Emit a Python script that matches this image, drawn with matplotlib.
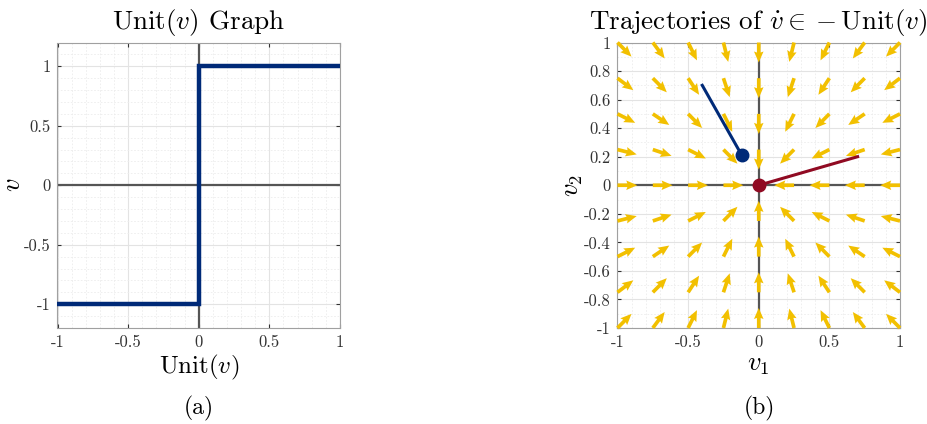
import numpy as np
import matplotlib
matplotlib.use("Agg")
import matplotlib.pyplot as plt

plt.rcParams['mathtext.fontset'] = 'cm'
plt.rcParams['font.family'] = 'serif'
plt.rcParams['font.serif'] = ['cmr10', 'DejaVu Serif']
plt.rcParams['axes.unicode_minus'] = False
plt.rcParams['axes.formatter.use_mathtext'] = True

# ---- data ----
# (a) Unit(v) step graph
step_x = [-1.0, 0.0, 0.0, 1.0]
step_y = [-1.0, -1.0, 1.0, 1.0]

# (b) vector field grid and two trajectories
grid_vals = [-1.0, -0.75, -0.5, -0.25, 0.0, 0.25, 0.5, 0.75, 1.0]
arrow_len = 0.14
traj_blue_x = [-0.40, -0.12]
traj_blue_y = [0.70, 0.21]
traj_red_x = [0.70, 0.0]
traj_red_y = [0.20, 0.0]

navy = '#002a78'
darkred = '#900a22'
yellow = '#f2c000'
axis_gray = '#555555'

W, H = 928, 424
fig = plt.figure(figsize=(W / 100, H / 100), dpi=100)


def px_axes(l, t, r, b):
    return fig.add_axes([l / W, 1 - b / H, (r - l) / W, (b - t) / H])


def style(ax):
    ax.tick_params(direction='in', length=3, top=True, right=True,
                   labelsize=12, colors='#333333', pad=5, which='major')
    ax.tick_params(which='minor', length=0, top=True, right=True)
    for s in ax.spines.values():
        s.set_color('#a0a0a0')
        s.set_linewidth(0.8)
    ax.grid(True, which='major', color='#e3e3e3', lw=0.8)
    ax.grid(True, which='minor', color='#ececec', lw=0.6, ls=(0, (2, 2)))
    ax.set_axisbelow(True)


# ---- (a) ----
ax1 = px_axes(57.5, 42.5, 340, 328)
style(ax1)
ax1.axhline(0, color=axis_gray, lw=1.6, zorder=2)
ax1.axvline(0, color=axis_gray, lw=1.6, zorder=2)
ax1.plot(step_x, step_y, color=navy, lw=3.2, zorder=3, solid_joinstyle='miter')
ax1.set_xlim(-1, 1)
ax1.set_ylim(-1.2, 1.2)
ax1.set_xticks([-1, -0.5, 0, 0.5, 1])
ax1.set_xticklabels(['-1', '-0.5', '0', '0.5', '1'])
ax1.set_yticks([-1, -0.5, 0, 0.5, 1])
ax1.set_yticklabels(['-1', '-0.5', '0', '0.5', '1'])
ax1.set_xticks(np.arange(-1, 1.01, 0.1), minor=True)
ax1.set_yticks(np.arange(-1.2, 1.21, 0.1), minor=True)
ax1.set_title(r'$\mathrm{Unit}(v)$ Graph', fontsize=19.5, pad=10)
ax1.set_xlabel(r'$\mathrm{Unit}(v)$', fontsize=18, labelpad=2)
ax1.set_ylabel(r'$v$', fontsize=19)
ax1.yaxis.set_label_coords(-0.115, 0.5)

# ---- (b) ----
ax2 = px_axes(617.5, 42.5, 900, 328)
style(ax2)
ax2.axhline(0, color=axis_gray, lw=1.6, zorder=2)
ax2.axvline(0, color=axis_gray, lw=1.6, zorder=2)

gx, gy = np.meshgrid(grid_vals, grid_vals)
norm = np.hypot(gx, gy)
norm[norm == 0] = np.inf
U = -gx / norm * arrow_len
V = -gy / norm * arrow_len
ax2.quiver(gx, gy, U, V, angles='xy', scale_units='xy', scale=1,
           color=yellow, width=0.013, headwidth=2.6, headlength=3.0,
           headaxislength=2.7, zorder=3, clip_on=False)

ax2.plot(traj_blue_x, traj_blue_y, color=navy, lw=2.2, zorder=4)
ax2.plot(traj_blue_x[-1], traj_blue_y[-1], 'o', color=navy, ms=9, zorder=5)
ax2.plot(traj_red_x, traj_red_y, color=darkred, lw=2.2, zorder=4)
ax2.plot(traj_red_x[-1], traj_red_y[-1], 'o', color=darkred, ms=9, zorder=5)

ax2.set_xlim(-1, 1)
ax2.set_ylim(-1, 1)
ax2.set_xticks([-1, -0.5, 0, 0.5, 1])
ax2.set_xticklabels(['-1', '-0.5', '0', '0.5', '1'])
yt = [-1, -0.8, -0.6, -0.4, -0.2, 0, 0.2, 0.4, 0.6, 0.8, 1]
ax2.set_yticks(yt)
ax2.set_yticklabels(['-1', '-0.8', '-0.6', '-0.4', '-0.2', '0', '0.2', '0.4', '0.6', '0.8', '1'])
ax2.set_xticks(np.arange(-1, 1.01, 0.1), minor=True)
ax2.set_yticks(np.arange(-1, 1.01, 0.1), minor=True)
ax2.set_title(r'Trajectories of $\dot{v} \in -\mathrm{Unit}(v)$', fontsize=19.5, pad=10)
ax2.set_xlabel(r'$v_1$', fontsize=19, labelpad=2)
ax2.set_ylabel(r'$v_2$', fontsize=19)
ax2.yaxis.set_label_coords(-0.115, 0.5)

# captions
fig.text(199 / W, 1 - 408 / H, '(a)', ha='center', va='center', fontsize=17)
fig.text(759 / W, 1 - 408 / H, '(b)', ha='center', va='center', fontsize=17)

fig.savefig('out.png', dpi=100, facecolor='white')
